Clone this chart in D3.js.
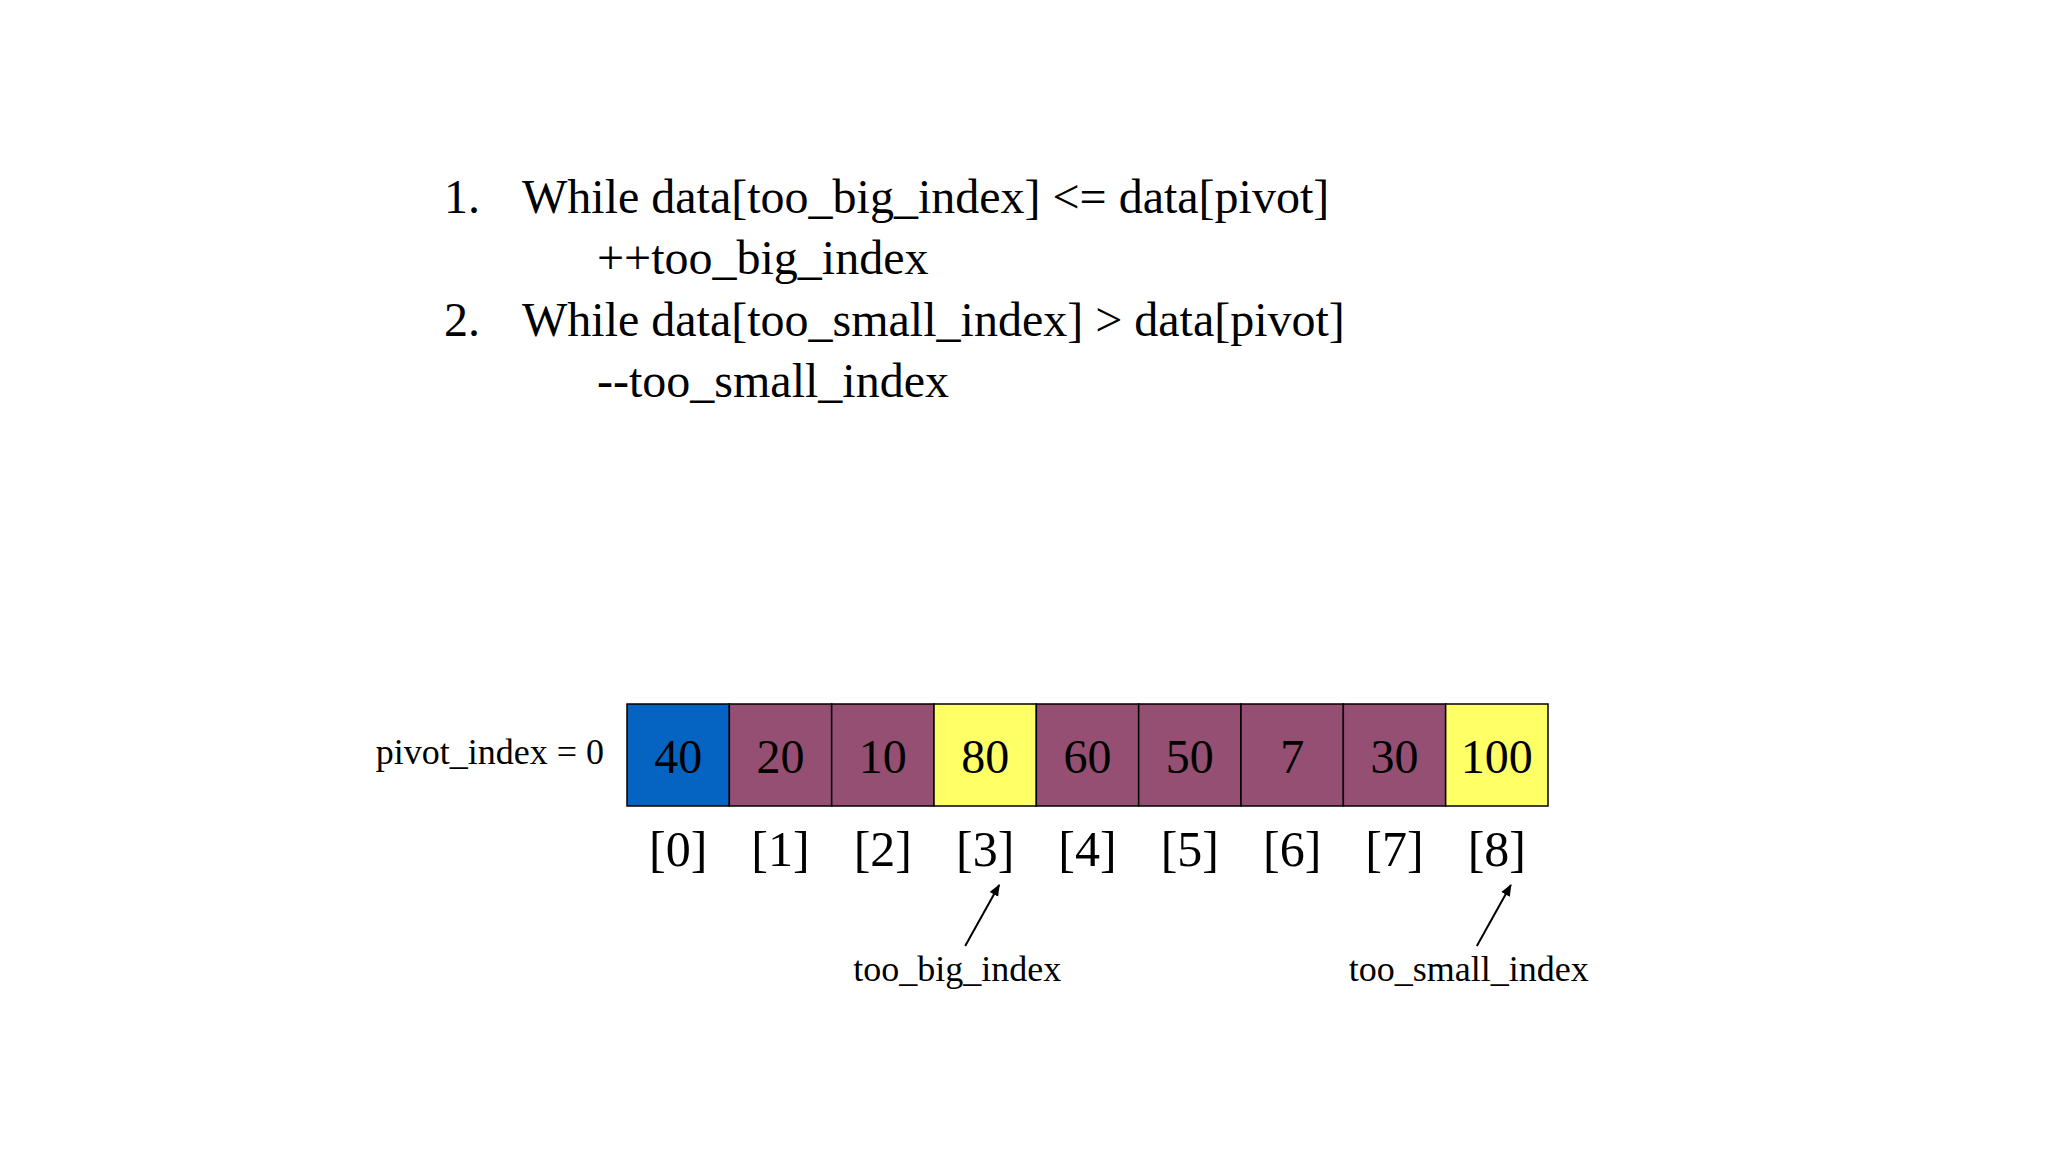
<!doctype html>
<html>
  <head>
    <meta charset="utf-8">
    <title>Quicksort partition</title>
    <script src="https://cdnjs.cloudflare.com/ajax/libs/d3/7.8.5/d3.min.js"></script>
    <style>
      body { margin: 0; background: #fff; }
      text { font-family: "Liberation Serif", "DejaVu Serif", serif; fill: #000; }
    </style>
  </head>
  <body>
    <div id="chart"></div>
    <script>
      // data
      const values = [40, 20, 10, 80, 60, 50, 7, 30, 100]
      const cellKinds = ['pivot', 'other', 'other', 'mark', 'other', 'other', 'other', 'other', 'mark']
      const indexLabels = values.map((d, i) => '[' + i + ']')
      const codeLines = [
        ['1.', 'While data[too_big_index] <= data[pivot]'],
        ['', '++too_big_index'],
        ['2.', 'While data[too_small_index] > data[pivot]'],
        ['', '--too_small_index']
      ]
      const pointers = [
        { name: 'too_big_index', at: 3 },
        { name: 'too_small_index', at: 8 }
      ]

      const colors = { pivot: '#0563c1', other: '#954f72', mark: '#ffff66' }

      const svg = d3.select('#chart').append('svg')
        .attr('width', 2048).attr('height', 1152)

      // code text
      const codeY = d3.scalePoint().domain(d3.range(codeLines.length)).range([213, 397])
      codeLines.forEach((l, i) => {
        if (l[0]) svg.append('text').attr('x', 444).attr('y', codeY(i))
          .attr('font-size', 48).text(l[0])
        svg.append('text').attr('x', l[0] ? 522 : 597).attr('y', codeY(i))
          .attr('font-size', 48).text(l[1])
      })

      // cells
      const x = d3.scaleBand().domain(d3.range(values.length)).range([627, 1548])
      const cellTop = 704, cellH = 102

      svg.selectAll('rect.cell').data(values).join('rect')
        .attr('class', 'cell')
        .attr('x', (d, i) => x(i)).attr('y', cellTop)
        .attr('width', x.bandwidth()).attr('height', cellH)
        .attr('fill', (d, i) => colors[cellKinds[i]])
        .attr('stroke', '#000').attr('stroke-width', 1.5)

      svg.selectAll('text.val').data(values).join('text')
        .attr('class', 'val')
        .attr('x', (d, i) => x(i) + x.bandwidth() / 2).attr('y', 773)
        .attr('text-anchor', 'middle').attr('font-size', 48)
        .text(d => d)

      svg.selectAll('text.idx').data(indexLabels).join('text')
        .attr('class', 'idx')
        .attr('x', (d, i) => x(i) + x.bandwidth() / 2).attr('y', 866)
        .attr('text-anchor', 'middle').attr('font-size', 50)
        .text(d => d)

      svg.append('text').attr('x', 604).attr('y', 764)
        .attr('text-anchor', 'end').attr('font-size', 36)
        .text('pivot_index = 0')

      // arrows
      svg.append('defs').append('marker')
        .attr('id', 'arr').attr('viewBox', '0 0 10 10')
        .attr('refX', 9).attr('refY', 5)
        .attr('markerWidth', 6).attr('markerHeight', 6)
        .attr('orient', 'auto')
        .append('path').attr('d', 'M0,1 L10,5 L0,9 z').attr('fill', '#000')

      pointers.forEach(p => {
        const cx = x(p.at) + x.bandwidth() / 2
        svg.append('line')
          .attr('x1', cx - 20).attr('y1', 946)
          .attr('x2', cx + 14).attr('y2', 885)
          .attr('stroke', '#000').attr('stroke-width', 2)
          .attr('marker-end', 'url(#arr)')
        svg.append('text').attr('x', cx - 28).attr('y', 981)
          .attr('text-anchor', 'middle').attr('font-size', 36)
          .text(p.name)
      })
    </script>
  </body>
</html>
